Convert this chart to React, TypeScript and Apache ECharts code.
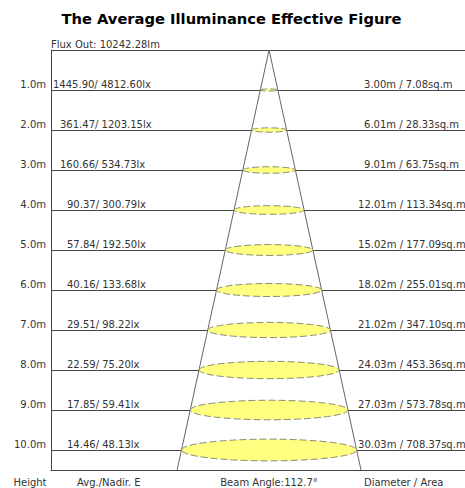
import React, { useEffect, useRef } from "react";
import * as echarts from "echarts";

const heights = [1, 2, 3, 4, 5, 6, 7, 8, 9, 10];
const avgE = [1445.9, 361.47, 160.66, 90.37, 57.84, 40.16, 29.51, 22.59, 17.85, 14.46];
const nadirE = [4812.6, 1203.15, 534.73, 300.79, 192.5, 133.68, 98.22, 75.2, 59.41, 48.13];
const diameters = [3.0, 6.01, 9.01, 12.01, 15.02, 18.02, 21.02, 24.03, 27.03, 30.03];
const areas = [7.08, 28.33, 63.75, 113.34, 177.09, 255.01, 347.1, 453.36, 573.78, 708.37];
const beamAngle = 112.7;
const fluxOut = 10242.28;
const bottomLabels = ["Height", "Avg./Nadir. E", "Beam Angle:" + beamAngle.toFixed(1) + "°", "Diameter / Area"];

const FONT = "DejaVu Sans, Verdana, sans-serif";
const TXT = "#333";

export default function App() {
  const ref = useRef<HTMLDivElement>(null);
  useEffect(() => {
    if (!ref.current) return;
    const chart = echarts.init(ref.current, undefined, { renderer: "svg" });
    const xMin = -37.4;
    const xMax = 33.6;
    const yMax = 10.5;
    const halfTan = Math.tan(((beamAngle / 2) * Math.PI) / 180);
    const coneData = [
      [-yMax * halfTan, yMax],
      [0, 0],
      [yMax * halfTan, yMax],
    ];
    const rows = heights.map((h, i) => [h, diameters[i], avgE[i], nadirE[i], areas[i]]);

    chart.setOption({
      animation: false,
      grid: { left: 51, top: 50, width: 414, height: 420, containLabel: false, outerBoundsMode: "none" },
      xAxis: {
        type: "value",
        min: xMin,
        max: xMax,
        show: true,
        axisLine: { show: true, onZero: false, lineStyle: { color: "#444", width: 1 } },
        axisTick: { show: false },
        axisLabel: { show: false },
        splitLine: { show: false },
      },
      yAxis: {
        type: "value",
        inverse: true,
        min: 0,
        max: yMax,
        interval: 1,
        axisLine: { show: true, onZero: false, lineStyle: { color: "#444", width: 1 } },
        axisTick: { show: false },
        splitLine: { show: true, lineStyle: { color: "#444", width: 1 } },
        axisLabel: {
          margin: 5,
          fontSize: 10,
          fontFamily: FONT,
          color: TXT,
          verticalAlign: "bottom",
          lineHeight: 12,
          formatter: (v: number) =>
            v >= 1 && v <= 10 && Number.isInteger(v) ? v.toFixed(1) + "m" : "",
        },
      },
      graphic: [
        {
          type: "text",
          x: 231.5,
          y: 18,
          style: {
            text: "The Average Illuminance Effective Figure",
            font: "bold 14.7px " + FONT,
            fill: "#000",
            align: "center",
            verticalAlign: "middle",
          },
        },
        {
          type: "text",
          x: 51,
          y: 44,
          style: {
            text: "Flux Out: " + fluxOut.toFixed(2) + "lm",
            font: "10px " + FONT,
            fill: TXT,
            align: "left",
            verticalAlign: "middle",
          },
        },
        {
          type: "text",
          x: 30,
          y: 482,
          style: { text: bottomLabels[0], font: "10px " + FONT, fill: TXT, align: "center", verticalAlign: "middle" },
        },
        {
          type: "text",
          x: 77,
          y: 482,
          style: { text: bottomLabels[1], font: "10px " + FONT, fill: TXT, align: "left", verticalAlign: "middle" },
        },
        {
          type: "text",
          x: 269,
          y: 482,
          style: { text: bottomLabels[2], font: "10px " + FONT, fill: TXT, align: "center", verticalAlign: "middle" },
        },
        {
          type: "text",
          x: 364,
          y: 482,
          style: { text: bottomLabels[3], font: "10px " + FONT, fill: TXT, align: "left", verticalAlign: "middle" },
        },
      ],
      series: [
        {
          type: "line",
          data: coneData,
          symbol: "none",
          lineStyle: { color: "#666", width: 1 },
          z: 2,
          silent: true,
        },
        {
          type: "custom",
          data: rows,
          encode: { x: 1, y: 0 },
          z: 3,
          clip: false,
          renderItem: (params: any, api: any) => {
            const h = api.value(0);
            const d = api.value(1);
            const c = api.coord([0, h]);
            const w = api.size([d, 0])[0];
            return {
              type: "ellipse",
              shape: { cx: c[0], cy: c[1], rx: w / 2, ry: w * 0.062 },
              style: { fill: "#ffff80", stroke: "#8c8c7a", lineWidth: 1, lineDash: [7, 3] },
            };
          },
        },
        {
          type: "custom",
          data: rows,
          encode: { x: 1, y: 0 },
          z: 4,
          clip: false,
          renderItem: (params: any, api: any) => {
            const h = api.value(0);
            const d = api.value(1);
            const avg = api.value(2);
            const nad = api.value(3);
            const area = api.value(4);
            const left = api.coord([xMin, h]);
            const mid = api.coord([0, h]);
            const avgStr = avg.toFixed(2);
            const dStr = d.toFixed(2);
            const y = left[1] - 6;
            return {
              type: "group",
              children: [
                {
                  type: "text",
                  x: left[0] + 2 + 7 * (7 - avgStr.length),
                  y,
                  style: {
                    text: avgStr + "/ " + nad.toFixed(2) + "lx",
                    font: "10px " + FONT,
                    fill: TXT,
                    align: "left",
                    verticalAlign: "middle",
                  },
                },
                {
                  type: "text",
                  x: mid[0] + 89 + 6 * (5 - dStr.length),
                  y,
                  style: {
                    text: dStr + "m / " + area.toFixed(2) + "sq.m",
                    font: "10px " + FONT,
                    fill: TXT,
                    align: "left",
                    verticalAlign: "middle",
                  },
                },
              ],
            };
          },
        },
      ],
    });
    return () => chart.dispose();
  }, []);
  return (
    <div
      ref={ref}
      style={{ position: "fixed", left: 0, top: 0, width: 465, height: 488, background: "#fff" }}
    />
  );
}
